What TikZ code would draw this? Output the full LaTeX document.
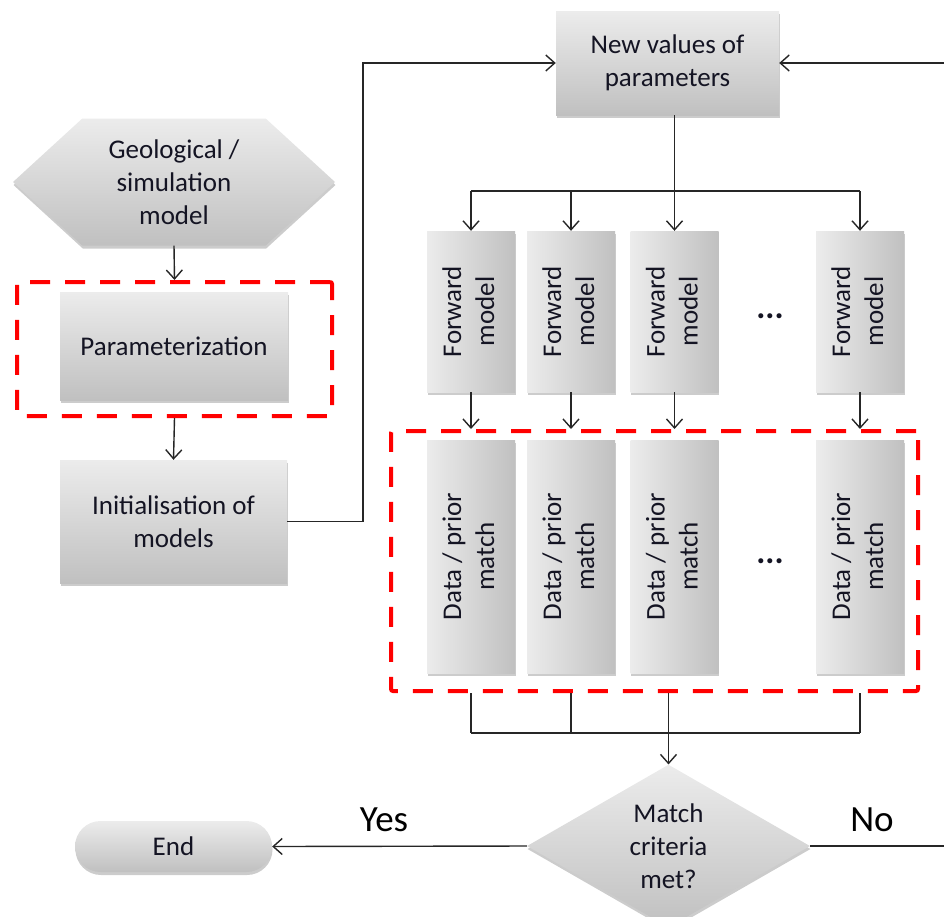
\documentclass[tikz,border=0pt]{standalone}
\usepackage{fontspec}
\setmainfont{Carlito}
\usetikzlibrary{shapes.geometric,shapes.symbols,shapes.misc,arrows.meta,shadows}
\definecolor{boxtop}{RGB}{236,236,236}
\definecolor{boxbot}{RGB}{192,192,192}
\definecolor{txt}{RGB}{20,20,35}
\begin{document}
\begin{tikzpicture}[x=1pt,y=-1pt,
  shade/.style={draw=none, top color=boxtop, bottom color=boxbot,
    drop shadow={shadow xshift=0.5pt, shadow yshift=-3pt, opacity=0.2, fill=black}},
  lbl/.style={text=txt, font=\fontsize{27}{33}\selectfont, align=center, inner sep=0pt},
  box/.style={shade, lbl, rectangle},
  vbox/.style={draw=none, left color=boxtop, right color=boxbot,
    drop shadow={shadow xshift=0.5pt, shadow yshift=-3pt, opacity=0.2, fill=black},
    lbl, rectangle, minimum width=88pt},
  redbox/.style={draw=red, line width=4pt, dash pattern=on 20pt off 15pt, rounded corners=2pt, inner sep=0pt},
  conn/.style={draw=black!85, line width=1.4pt},
  arr/.style={conn, -{Straight Barb[length=9pt,width=16pt,line width=1.4pt]}},
  yn/.style={font=\fontsize{37}{40}\selectfont, text=black, inner sep=0pt},
  dotsn/.style={text=txt, font=\fontsize{34}{34}\selectfont\bfseries, inner sep=0pt}
]
\useasboundingbox (0,0) rectangle (944,916);

% left column
\node[shade, lbl, signal, signal to=west and east, signal pointer angle=85,
      minimum width=322pt, minimum height=127pt] (geo) at (174,182)
      {Geological /\\simulation\\model};
\node[box, minimum width=228pt, minimum height=108pt] (param) at (174,346) {Parameterization};
\node[redbox, minimum width=315pt, minimum height=134pt] (pfit) at (174.5,349) {};
\node[box, minimum width=227pt, minimum height=123pt] (init) at (173.5,521.5) {Initialisation of\\models};

% top
\node[box, minimum width=223pt, minimum height=104pt] (newv) at (667.5,63) {New values of\\parameters};

% forward models and data/prior matches
\foreach \i/\x in {1/471,2/571,3/674.5,4/860}{
  \node[vbox, minimum height=161pt] (f\i) at (\x,311.5)
    {\rotatebox{90}{\begin{tabular}{@{}c@{}}Forward\\model\end{tabular}}};
  \node[vbox, minimum height=233pt] (d\i) at (\x,556.5)
    {\rotatebox{90}{\begin{tabular}{@{}c@{}}Data / prior\\match\end{tabular}}};
}
\node[dotsn] (dots1) at (770,316) {...};
\node[dotsn] (dots2) at (770,561) {...};
\node[redbox, minimum width=527pt, minimum height=260pt] (dfit) at (654.5,561) {};

% decision
\node[shade, lbl, diamond, minimum width=283pt, minimum height=138pt] (dia) at (668.5,846)
  {Match\\criteria\\met?};
\node[shade, lbl, rounded rectangle, minimum width=197pt, minimum height=51pt] (endn) at (173.5,846.5) {End};
\node[yn] (yes) at (384,820) {Yes};
\node[yn] (no) at (872,820) {No};

% coordinates
\coordinate (bend) at (363,0);
\coordinate (bus1) at (0,191);
\coordinate (bus2) at (0,733);
\coordinate (rb) at (952,846);
\coordinate (rt) at (952,63);

% connectors
\draw[arr] (geo.south) -- (pfit.north);
\draw[arr] (pfit.south) -- (init.north);
\draw[arr] (init.east) -- (init.east -| bend) -- (bend |- newv.west) -- (newv.west);
\draw[conn] (f3.north |- newv.south) -- (f3.north |- bus1);
\draw[conn] (f1.north |- bus1) -- (f4.north |- bus1);
\foreach \i in {1,2,3,4}{
  \draw[arr] (f\i.north |- bus1) -- (f\i.north);
  \draw[arr] (f\i.south) -- (f\i.south |- dfit.north);
}
\foreach \i in {1,2,4}{
  \draw[conn] (d\i.south |- dfit.south) -- (d\i.south |- bus2);
}
\draw[conn] (d1.south |- bus2) -- (d4.south |- bus2);
\draw[arr] (dia.north |- dfit.south) -- (dia.north);
\draw[arr] (dia.west) -- (endn.east);
\draw[arr] (dia.east) -- (rb) -- (rt) -- (newv.east);
\end{tikzpicture}
\end{document}
